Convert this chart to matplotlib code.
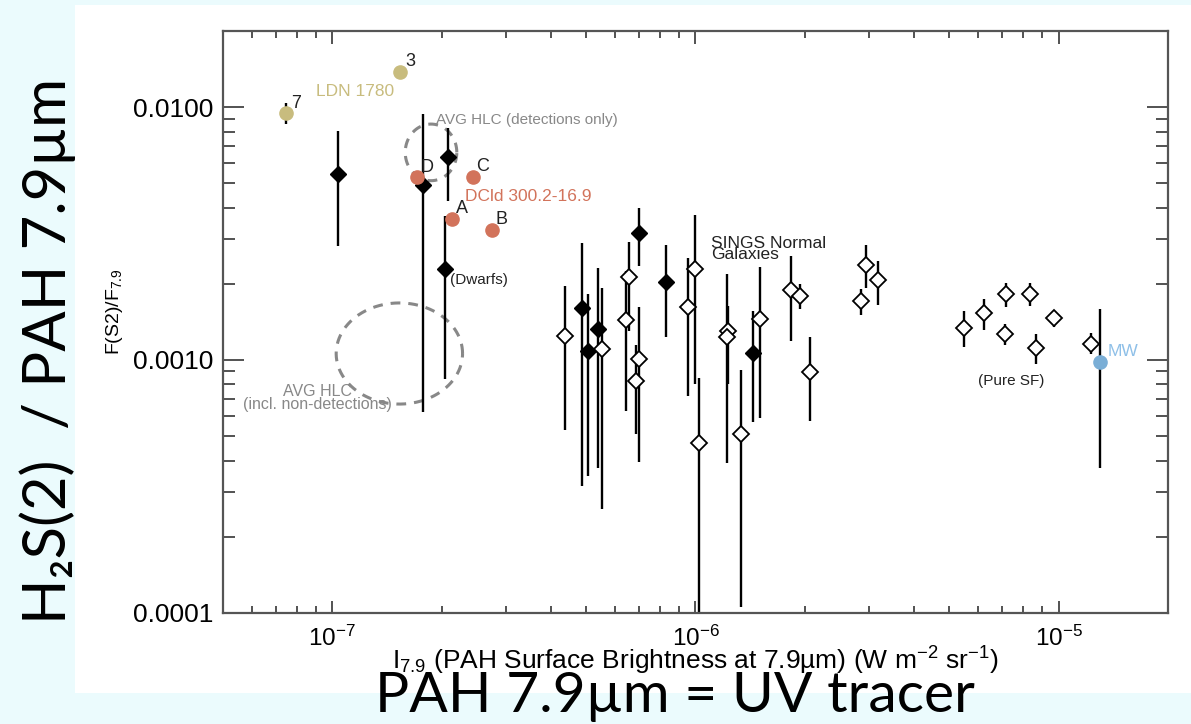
import numpy as np
import matplotlib
matplotlib.use("Agg")
import matplotlib.pyplot as plt
from matplotlib.patches import Rectangle
from matplotlib.ticker import LogLocator, FixedLocator, FuncFormatter, NullFormatter

plt.rcParams["font.family"] = ["Liberation Sans", "DejaVu Sans"]
plt.rcParams["mathtext.fontset"] = "custom"
plt.rcParams["mathtext.rm"] = "Liberation Sans"
plt.rcParams["mathtext.it"] = "Liberation Sans:italic"
plt.rcParams["mathtext.bf"] = "Liberation Sans:bold"

# ---------------- data ----------------
# LDN 1780 positions
ldn_labels = ["7", "3"]
ldn_x = [7.46e-8, 1.535e-7]
ldn_y = [0.00946, 0.01377]
ldn_lo = [0.00855, 0.01377]
ldn_hi = [0.01038, 0.01377]

# DCld 300.2-16.9 positions
dcld_labels = ["D", "C", "A", "B"]
dcld_x = [1.712e-7, 2.44e-7, 2.14e-7, 2.75e-7]
dcld_y = [0.00527, 0.00530, 0.00362, 0.00327]
dcld_lo = [0.00527, 0.00530, 0.00342, 0.00307]
dcld_hi = [0.00527, 0.00530, 0.00362, 0.00327]

# filled diamonds (dwarfs / AGN-hosting galaxies)
filled_x = [1.034e-7, 1.778e-7, 2.079e-7, 2.048e-7, 4.87e-7, 5.05e-7,
            5.38e-7, 6.99e-7, 8.29e-7, 1.443e-6]
filled_y = [0.00544, 0.00490, 0.00634, 0.00228, 0.00160, 0.001086,
            0.00133, 0.00317, 0.00203, 0.001066]
filled_lo = [0.00282, 0.000622, 0.00426, 0.000842, 0.000318, 0.000348,
             0.000372, 0.00235, 0.00123, 0.000568]
filled_hi = [0.00804, 0.00935, 0.00830, 0.00372, 0.00289, 0.00183,
             0.00230, 0.00399, 0.00285, 0.001567]

# open diamonds (SINGS normal / pure star-forming galaxies)
open_x = [4.375e-7, 5.53e-7, 6.545e-7, 6.45e-7, 7.005e-7, 6.88e-7, 9.52e-7,
          9.94e-7, 1.024e-6, 1.227e-6, 1.22e-6, 1.338e-6, 1.505e-6, 1.832e-6,
          1.943e-6, 2.066e-6, 2.858e-6, 2.944e-6, 3.18e-6, 5.47e-6, 6.21e-6,
          7.18e-6, 7.11e-6, 8.36e-6, 9.73e-6, 8.66e-6, 1.23e-5]
open_y = [0.001246, 0.0011, 0.00212, 0.00144, 0.00101, 0.000827, 0.001626,
          0.00228, 0.000471, 0.0013, 0.00123, 0.000507, 0.001453, 0.001895,
          0.001794, 0.000898, 0.001708, 0.002384, 0.002064, 0.001338, 0.001529,
          0.001816, 0.001261, 0.001827, 0.001461, 0.001116, 0.001161]
open_lo = [0.00053, 0.000258, 0.0013, 0.00063, 0.000396, 0.00051, 0.000719,
           0.000804, 0.00005, 0.0008, 0.000392, 0.000105, 0.000589, 0.001183,
           0.001586, 0.000575, 0.001511, 0.001924, 0.001656, 0.001127, 0.001313,
           0.001616, 0.001145, 0.001641, 0.001353, 0.000967, 0.001054]
open_hi = [0.00196, 0.00193, 0.00294, 0.00224, 0.001626, 0.001148, 0.00254,
           0.003757, 0.00085, 0.00164, 0.002195, 0.00091, 0.00233, 0.002588,
           0.002002, 0.001235, 0.001913, 0.00285, 0.002472, 0.001557, 0.001745,
           0.002014, 0.001388, 0.002014, 0.001557, 0.001266, 0.001278]

# Milky Way
mw_x = [1.302e-5]
mw_y = [0.000984]
mw_lo = [0.000372]
mw_hi = [0.001592]

# average high-latitude cloud regions: (log centre x, log centre y, log half-width x, log half-width y)
hlc_det = (np.log10(1.87e-7), np.log10(0.00662), 0.071, 0.112)
hlc_all = (np.log10(1.53e-7), np.log10(0.00106), 0.174, 0.200)

y_ticks = [1e-4, 1e-3, 1e-2]

# ---------------- styling ----------------
KHAKI = "#c8bc7e"
SALMON = "#d2735b"
MW_BLUE = "#7aaed6"
GREY = "#888888"
SLIDE_BG = "#ebfbfd"

fig = plt.figure(figsize=(11.91, 7.24), dpi=100, facecolor=SLIDE_BG)
panel = Rectangle((75 / 1191, 31 / 724), 1.0, 688 / 724,
                  transform=fig.transFigure, facecolor="white",
                  edgecolor="none", zorder=-10)
fig.patches.append(panel)

ax = fig.add_axes([0.1872, 0.1537, 0.7935, 0.8035])
ax.set_zorder(1)
ax.set_xscale("log")
ax.set_yscale("log")
ax.set_xlim(5e-8, 2e-5)
ax.set_ylim(1e-4, 0.02)


def vbars(xs, lo, hi, color="black", lw=1.7):
    ax.vlines(xs, lo, hi, colors=color, linewidth=lw, zorder=2)


# error bars
vbars(filled_x, filled_lo, filled_hi)
vbars(open_x, open_lo, open_hi)
vbars(mw_x, mw_lo, mw_hi)
vbars(ldn_x, ldn_lo, ldn_hi)
vbars(dcld_x, dcld_lo, dcld_hi)

# markers
ax.plot(filled_x, filled_y, "D", color="black", markersize=8, zorder=3, linestyle="none")
ax.plot(open_x, open_y, "D", markerfacecolor="white", markeredgecolor="black",
        markeredgewidth=1.3, markersize=8, zorder=3, linestyle="none")
ax.plot(ldn_x, ldn_y, "o", color=KHAKI, markersize=9.5, zorder=4, linestyle="none")
ax.plot(dcld_x, dcld_y, "o", color=SALMON, markersize=9.5, zorder=4, linestyle="none")
ax.plot(mw_x, mw_y, "o", color=MW_BLUE, markersize=9.5, zorder=4, linestyle="none")

for lab, x, y in zip(ldn_labels + dcld_labels, ldn_x + dcld_x, ldn_y + dcld_y):
    ax.annotate(lab, (x, y), xytext=(10, 10), textcoords="offset pixels",
                ha="center", va="center", fontsize=13, color="#222222", zorder=5)

# dashed regions
t = np.linspace(0, 2 * np.pi, 300)
for cx, cy, rx, ry in (hlc_det, hlc_all):
    ax.plot(10 ** (cx + rx * np.cos(t)), 10 ** (cy + ry * np.sin(t)),
            color=GREY, linestyle=(0, (3.2, 2.6)), linewidth=2.2, zorder=1)

# annotations
ax.text(9.02e-8, 0.01153, "LDN 1780", color=KHAKI, fontsize=12.5, va="center", ha="left")
ax.text(1.93e-7, 0.00886, "AVG HLC (detections only)", color=GREY, fontsize=11,
        va="center", ha="left")
ax.text(2.316e-7, 0.00444, "DCld 300.2-16.9", color=SALMON, fontsize=12.5, va="center", ha="left")
ax.text(2.107e-7, 0.00207, "(Dwarfs)", color="#222222", fontsize=11, va="center", ha="left")
ax.text(1.102e-6, 0.00275, "SINGS Normal\nGalaxies", color="#222222", fontsize=12.5,
        va="center", ha="left", linespacing=0.72)
ax.text(9.08e-8, 0.000707, "AVG HLC\n(incl. non-detections)", color=GREY, fontsize=11.5,
        va="center", ha="center", linespacing=0.78)
ax.text(7.39e-6, 0.000825, "(Pure SF)", color="#222222", fontsize=11, va="center", ha="center")
ax.text(1.362e-5, 0.001076, "MW", color="#8fc0e8", fontsize=12.5, va="center", ha="left")

# axes styling
for sp in ax.spines.values():
    sp.set_color("#555555")
    sp.set_linewidth(1.6)

ax.xaxis.set_major_locator(LogLocator(base=10))
ax.xaxis.set_minor_locator(LogLocator(base=10, subs=np.arange(2, 10)))
ax.xaxis.set_minor_formatter(NullFormatter())
ax.yaxis.set_major_locator(FixedLocator(y_ticks))
ax.yaxis.set_major_formatter(FuncFormatter(lambda v, p: f"{v:.4f}"))
ax.yaxis.set_minor_locator(LogLocator(base=10, subs=np.arange(2, 10)))
ax.yaxis.set_minor_formatter(NullFormatter())

ax.tick_params(which="both", direction="in", top=True, right=True, color="#444444", width=1.3)
ax.tick_params(axis="x", which="major", length=9, labelsize=17.5, pad=9)
ax.tick_params(axis="x", which="minor", length=5)
ax.tick_params(axis="y", which="major", length=15, labelsize=19, pad=7)
ax.tick_params(axis="y", which="minor", length=8.5)

ax.set_xlabel(r"I$_{7.9}$ (PAH Surface Brightness at 7.9µm) (W m$^{-2}$ sr$^{-1}$)", fontsize=19)
ax.xaxis.set_label_coords(0.5, -0.083)
ax.xaxis.label.set_verticalalignment("center")
ax.set_ylabel(r"F(S2)/F$_{7.9}$", fontsize=14)
ax.yaxis.set_label_coords(-0.104, 0.517)

# slide captions
big = ["Lato", "DejaVu Sans"]
fig.text(0.040, 0.515, "H\u2082S(2)  / PAH 7.9µm", rotation=90, ha="center", va="center",
         fontsize=43, family=big, color="black")
fig.text(0.5668, 0.0166, "PAH 7.9µm = UV tracer", ha="center", va="baseline",
         fontsize=41, family=big, color="black")

fig.savefig("out.png", dpi=100, facecolor=SLIDE_BG)
